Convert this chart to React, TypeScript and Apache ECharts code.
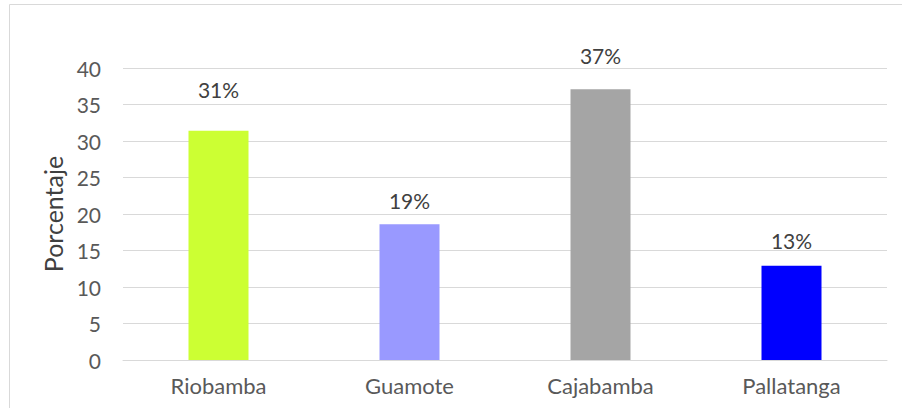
import React, { useEffect, useRef } from "react";
import * as echarts from "echarts";

const categories = ["Riobamba", "Guamote", "Cajabamba", "Pallatanga"];
const values = [31.4, 18.6, 37.1, 12.9];
const barColors = ["#CCFF33", "#9999FF", "#A5A5A5", "#0000FF"];
const labelGaps = [31, 13, 23, 15];
const yTitle = "Porcentaje";

export default function App() {
  const ref = useRef<HTMLDivElement>(null);
  useEffect(() => {
    if (!ref.current) return;
    const chart = echarts.init(ref.current, null, { renderer: "svg" });
    const font = "Lato, 'Open Sans', sans-serif";
    chart.setOption({
      animation: false,
      backgroundColor: "#ffffff",
      graphic: [
        {
          type: "rect",
          shape: { x: 9.5, y: 4.5, width: 920, height: 420 },
          style: { fill: "none", stroke: "#D9D9D9", lineWidth: 1 },
          silent: true,
        },
      ],
      grid: { left: 123, right: 15, top: 68, bottom: 48, containLabel: false },
      xAxis: {
        type: "category",
        data: categories,
        axisLine: { lineStyle: { color: "#D9D9D9", width: 1 } },
        axisTick: { show: false },
        axisLabel: { color: "#595959", fontSize: 22, fontFamily: font, margin: 14 },
      },
      yAxis: {
        type: "value",
        min: 0,
        max: 40,
        interval: 5,
        name: yTitle,
        nameLocation: "middle",
        nameGap: 57,
        nameTextStyle: { color: "#404040", fontSize: 25, fontFamily: font },
        axisLine: { show: false },
        axisTick: { show: false },
        splitLine: { lineStyle: { color: "#D9D9D9", width: 1 } },
        axisLabel: { color: "#595959", fontSize: 21, fontFamily: font, margin: 22 },
      },
      series: [
        {
          type: "bar",
          barWidth: 60,
          data: values.map((v, i) => ({
            value: v,
            itemStyle: { color: barColors[i] },
            label: { distance: labelGaps[i] },
          })),
          label: {
            show: true,
            position: "top",
            color: "#404040",
            fontSize: 21,
            fontFamily: font,
            formatter: (p: any) => Math.round(p.value) + "%",
          },
        },
      ],
    });
    return () => chart.dispose();
  }, []);
  return (
    <div
      ref={ref}
      style={{ position: "fixed", left: 0, top: 0, width: 902, height: 408 }}
    />
  );
}
